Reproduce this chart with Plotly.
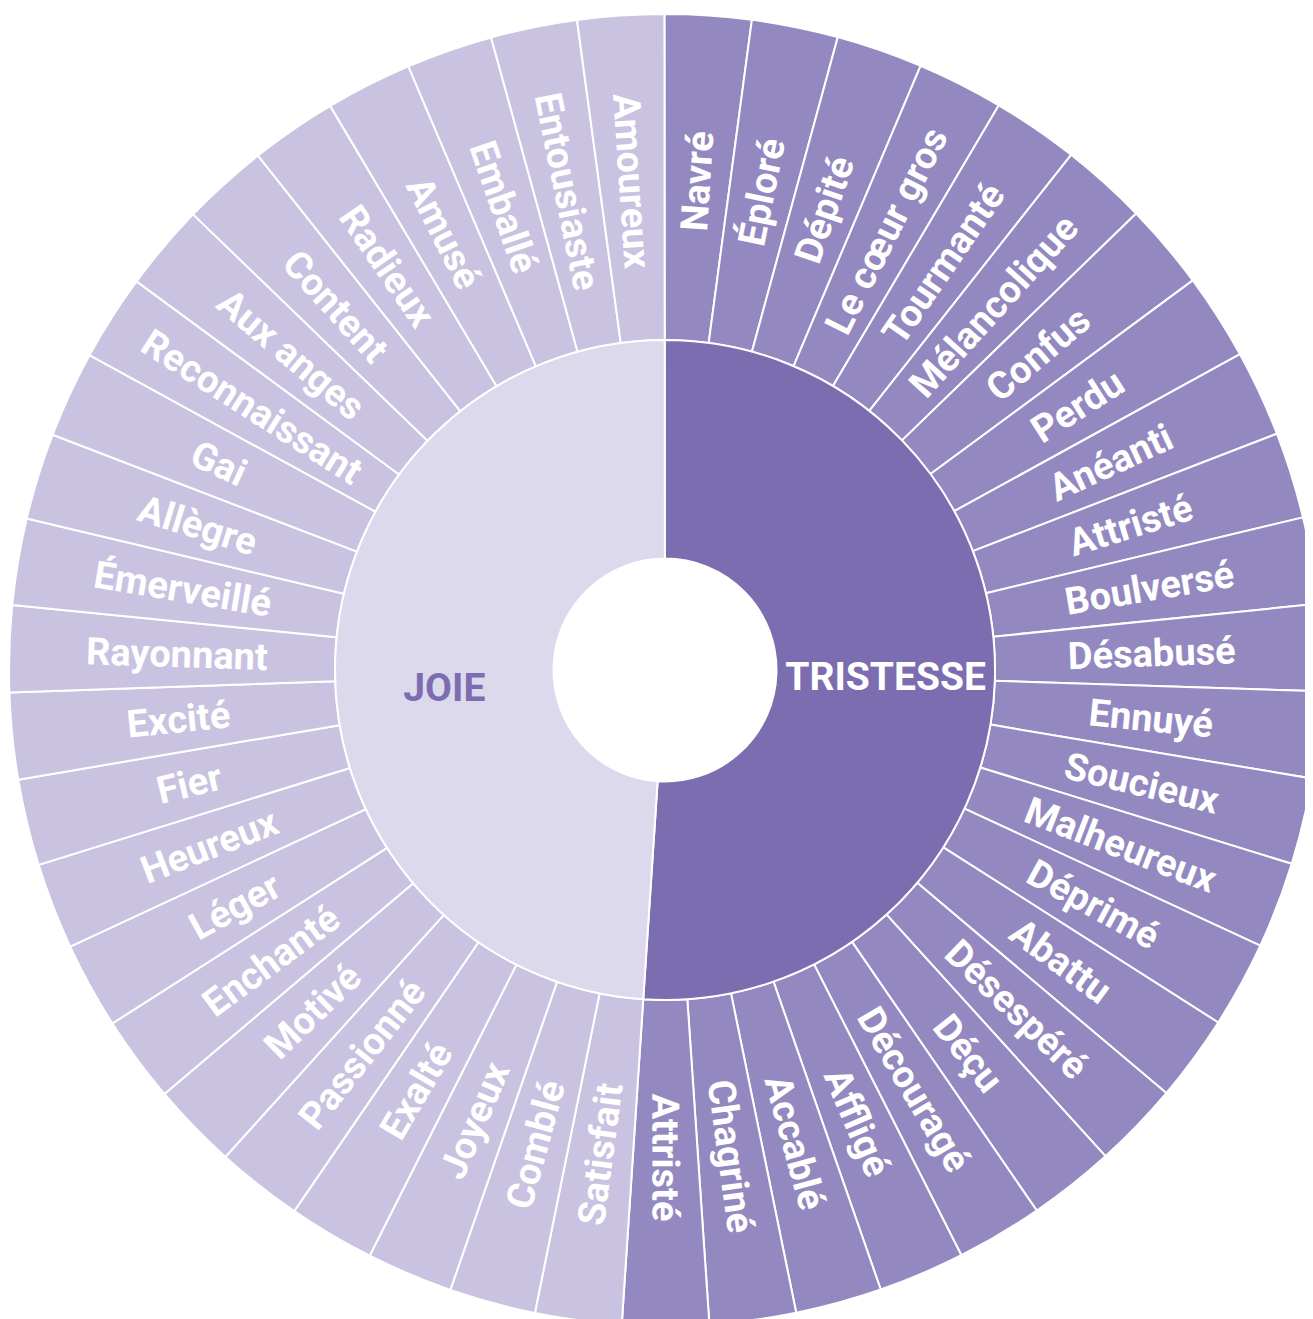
import unicodedata
import plotly.graph_objects as go

# Inner ring (clockwise from 12 o'clock)
groups = ["TRISTESSE", "JOIE"]
group_values = [24, 23]
group_colors = ["#7B6DB0", "#DCD9ED"]
group_text_colors = ["#FFFFFF", "#7B6DB0"]

# Outer ring leaves, TRISTESSE clockwise from 12 o'clock
tristesse = ["Navré", "Éploré", "Dépité", "Le cœur gros", "Tourmanté", "Mélancolique",
             "Confus", "Perdu", "Anéanti", "Attristé", "Boulversé", "Désabusé",
             "Ennuyé", "Soucieux", "Malheureux", "Déprimé", "Abattu", "Désespéré",
             "Déçu", "Découragé", "Affligé", "Accablé", "Chagriné", "Attristé"]
tristesse_values = [1, 1, 1, 1, 1, 1, 1, 1, 1, 1, 1, 1,
                    1, 1, 1, 1, 1, 1, 1, 1, 1, 1, 1, 1]
# JOIE leaves, counter-clockwise from 12 o'clock
joie = ["Amoureux", "Entousiaste", "Emballé", "Amusé", "Radieux", "Content",
        "Aux anges", "Reconnaissant", "Gai", "Allègre", "Émerveillé", "Rayonnant",
        "Excité", "Fier", "Heureux", "Léger", "Enchanté", "Motivé", "Passionné",
        "Exalté", "Joyeux", "Comblé", "Satisfait"]
joie_values = [1, 1, 1, 1, 1, 1, 1, 1, 1, 1, 1, 1,
               1, 1, 1, 1, 1, 1, 1, 1, 1, 1, 1]
leaf_colors = {"TRISTESSE": "#9389C0", "JOIE": "#C9C3E1"}

# ---- layout geometry (styling) ----
W, H = 1313, 1319
ML, MR, MT, MB = 1, 0, 6, 1
plot_w = W - ML - MR
R_OUT = plot_w / 2
R_MID = 330
R_HOLE = 111.5
R_TEXT = 640          # radius of the (transparent) ring that carries the leaf labels
LEAF_SIZE = 38
GROUP_SIZE = 39
FONT = "Roboto"
ROT = -0.05

# approximate Roboto Bold advance widths (em) used to centre labels radially
ADV = {' ': 0.248, '\u00a0': 0.248,
       'A': 0.665, 'B': 0.637, 'C': 0.648, 'D': 0.645, 'E': 0.559, 'F': 0.544,
       'G': 0.676, 'H': 0.706, 'I': 0.288, 'J': 0.551, 'K': 0.626, 'L': 0.535,
       'M': 0.873, 'N': 0.704, 'O': 0.684, 'P': 0.634, 'R': 0.622, 'S': 0.611,
       'T': 0.614, 'U': 0.654, 'V': 0.654,
       'a': 0.540, 'b': 0.561, 'c': 0.523, 'd': 0.563, 'e': 0.533, 'f': 0.351,
       'g': 0.565, 'h': 0.553, 'i': 0.250, 'j': 0.245, 'k': 0.516, 'l': 0.250,
       'm': 0.876, 'n': 0.553, 'o': 0.570, 'p': 0.561, 'q': 0.565, 'r': 0.350,
       's': 0.519, 't': 0.330, 'u': 0.553, 'v': 0.496, 'w': 0.751, 'x': 0.502,
       'y': 0.487, 'z': 0.502, 'œ': 0.910}


def est_width(s, size):
    total = 0.0
    for ch in s:
        if ch not in ADV:
            base = unicodedata.normalize("NFD", ch)[0]
            total += ADV.get(base, 0.55)
        else:
            total += ADV[ch]
    return total * size


def centred(s, size, target=290):
    n = max(0, round((target - est_width(s, size)) / (2 * ADV[' '] * size)))
    return "\u00a0" * n + s + "\u00a0" * n


leaf_text = tristesse + joie[::-1]
leaf_vals = tristesse_values + joie_values[::-1]
leaf_cols = [leaf_colors["TRISTESSE"]] * len(tristesse) + [leaf_colors["JOIE"]] * len(joie)
leaf_ids = [f"leaf{i}" for i in range(len(leaf_text))]
leaf_disp = [centred(t, LEAF_SIZE) for t in leaf_text]
group_disp = [groups[0], "\u00a0<br>" + groups[1]]

fig = go.Figure()
# leaf wedges
fig.add_trace(go.Pie(
    labels=leaf_ids, values=leaf_vals, textinfo="none",
    hovertext=leaf_text, hoverinfo="text",
    sort=False, direction="clockwise", rotation=ROT,
    hole=R_MID / R_OUT,
    marker=dict(colors=leaf_cols, line=dict(color="white", width=2)),
    domain=dict(x=[0, 1], y=[0, 1]),
    showlegend=False,
))
# leaf labels (transparent ring, same slices)
ft = R_TEXT / plot_w
fig.add_trace(go.Pie(
    labels=leaf_ids, values=leaf_vals, text=leaf_disp, textinfo="text",
    hovertext=leaf_text, hoverinfo="text",
    sort=False, direction="clockwise", rotation=ROT,
    hole=R_MID / R_TEXT,
    marker=dict(colors=["rgba(0,0,0,0)"] * len(leaf_ids), line=dict(width=0)),
    textposition="inside", insidetextorientation="radial",
    textfont=dict(family=FONT, size=LEAF_SIZE, color="white", weight="bold"),
    domain=dict(x=[0.5 - ft, 0.5 + ft], y=[0.5 - ft, 0.5 + ft]),
    showlegend=False,
))
# inner ring
f = R_MID / plot_w
fig.add_trace(go.Pie(
    labels=groups, values=group_values, text=group_disp, textinfo="text",
    hovertext=groups, hoverinfo="text",
    sort=False, direction="clockwise", rotation=ROT,
    hole=R_HOLE / R_MID,
    marker=dict(colors=group_colors, line=dict(color="white", width=2)),
    textposition="inside", insidetextorientation="horizontal",
    textfont=dict(family=FONT, size=GROUP_SIZE, color=group_text_colors, weight="bold"),
    domain=dict(x=[0.5 - f, 0.5 + f], y=[0.5 - f, 0.5 + f]),
    showlegend=False,
))
fig.update_layout(
    width=W, height=H,
    margin=dict(l=ML, r=MR, t=MT, b=MB),
    paper_bgcolor="white", plot_bgcolor="white",
)
fig.write_html("out.html")
